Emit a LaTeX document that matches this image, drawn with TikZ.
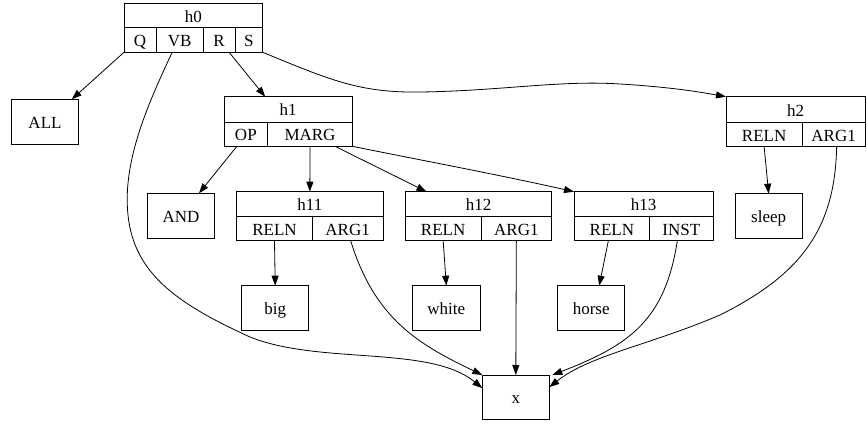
\documentclass[tikz,border=0pt]{standalone}
\usepackage{fontspec}
\setmainfont{Liberation Serif}
\usetikzlibrary{arrows.meta,calc}
\tikzset{
  fld/.style={draw, rectangle, inner sep=0pt, outer sep=0pt, line width=0.8pt,
    font=\fontsize{17}{19}\selectfont, text height=15pt, text depth=2pt},
  edge/.style={draw, line width=0.8pt, -{Triangle[length=10pt,width=7pt]}},
}
\newcommand{\myrec}[6]{\node[fld, minimum width={(#4-#2)*1pt}, minimum height={(#5-#3)*1pt}] (#1) at ({(#2+#4)/2},{(#3+#5)/2}) {#6};}
\begin{document}
\begin{tikzpicture}[x=1pt,y=-1pt]
\useasboundingbox (0,0) rectangle (867,423);
% records
\myrec{h0}{124}{3.3}{262.7}{27.7}{h0}
\myrec{h0Q}{124}{27.7}{156}{52.3}{Q}
\myrec{h0VB}{156}{27.7}{203.3}{52.3}{VB}
\myrec{h0R}{203.3}{27.7}{235}{52.3}{R}
\myrec{h0S}{235}{27.7}{262.7}{52.3}{S}
\myrec{ALL}{11.7}{99.3}{78.3}{144}{ALL}
\myrec{h1}{224}{96.7}{352.3}{122}{h1}
\myrec{h1OP}{224}{122}{267.7}{146.3}{OP}
\myrec{h1M}{267.7}{122}{352.3}{146.3}{MARG}
\myrec{h2}{726}{96.7}{865}{122.3}{h2}
\myrec{h2R}{726}{122.3}{802.3}{146.7}{RELN}
\myrec{h2A}{802.3}{122.3}{865}{146.7}{ARG1}
\myrec{AND}{147.7}{193.3}{214.3}{238.7}{AND}
\myrec{h11}{236.7}{191.7}{383}{216.3}{h11}
\myrec{h11R}{236.7}{216.3}{312.3}{240.7}{RELN}
\myrec{h11A}{312.3}{216.3}{383}{240.7}{ARG1}
\myrec{h12}{405.3}{191.7}{551.7}{216.3}{h12}
\myrec{h12R}{405.3}{216.3}{481}{240.7}{RELN}
\myrec{h12A}{481}{216.3}{551.7}{240.7}{ARG1}
\myrec{h13}{574}{191.7}{713}{216.3}{h13}
\myrec{h13R}{574}{216.3}{649.7}{240.7}{RELN}
\myrec{h13I}{649.7}{216.3}{713}{240.7}{INST}
\myrec{sleep}{735}{193.7}{802.3}{238.7}{sleep}
\myrec{big}{241.7}{285.7}{308.7}{330.3}{big}
\myrec{white}{412.7}{285.7}{480}{330.3}{white}
\myrec{horse}{557.7}{285.7}{624.7}{330.3}{horse}
\myrec{xnode}{482.3}{375}{549.3}{419.3}{x}
% edges
\draw[edge] (h0Q.south west) -- ([xshift=-6.5pt]ALL.north east);
\draw[edge] ([xshift=-7.5pt]h0VB.south) .. controls (150,100) and (122,160) .. (128,215)
   .. controls (134,275) and (180,305) .. (250,337)
   .. controls (320,365) and (430,345) .. ([yshift=9pt]xnode.west);
\draw[edge] ([xshift=10pt]h0R.south) -- ([xshift=-23pt]h1.north);
\draw[edge] (h0S.south east) .. controls (330,80) and (360,93) .. (420,92)
   .. controls (500,91) and (560,80) .. (620,84)
   .. controls (670,87) and (700,92) .. (h2.north west);
\draw[edge] ([xshift=-9pt]h1OP.south) -- ([xshift=18pt]AND.north);
\draw[edge] (h1M.south) -- (h11.north);
\draw[edge] ([xshift=25pt]h1M.south) -- ([xshift=-52pt]h12.north);
\draw[edge] (h1M.south east) .. controls (420,160) and (500,175) .. (h13.north west);
\draw[edge] (h11R.south) -- (big.north);
\draw[edge] ([xshift=3pt]h11A.south) .. controls (375,320) and (420,345) .. (xnode.north west);
\draw[edge] (h12R.south) -- (white.north);
\draw[edge] (h12A.south) -- (xnode.north);
\draw[edge] ([xshift=-3.5pt]h13R.south) -- ([xshift=8pt]horse.north);
\draw[edge] ([xshift=-4pt]h13I.south) .. controls (665,320) and (630,345) .. ([xshift=3pt]xnode.north east);
\draw[edge] (h2R.south) -- (sleep.north);
\draw[edge] ([xshift=3pt]h2A.south) .. controls (835,230) and (800,275) .. (720,315)
   .. controls (650,345) and (590,355) .. ([yshift=10pt]xnode.east);
\end{tikzpicture}
\end{document}
